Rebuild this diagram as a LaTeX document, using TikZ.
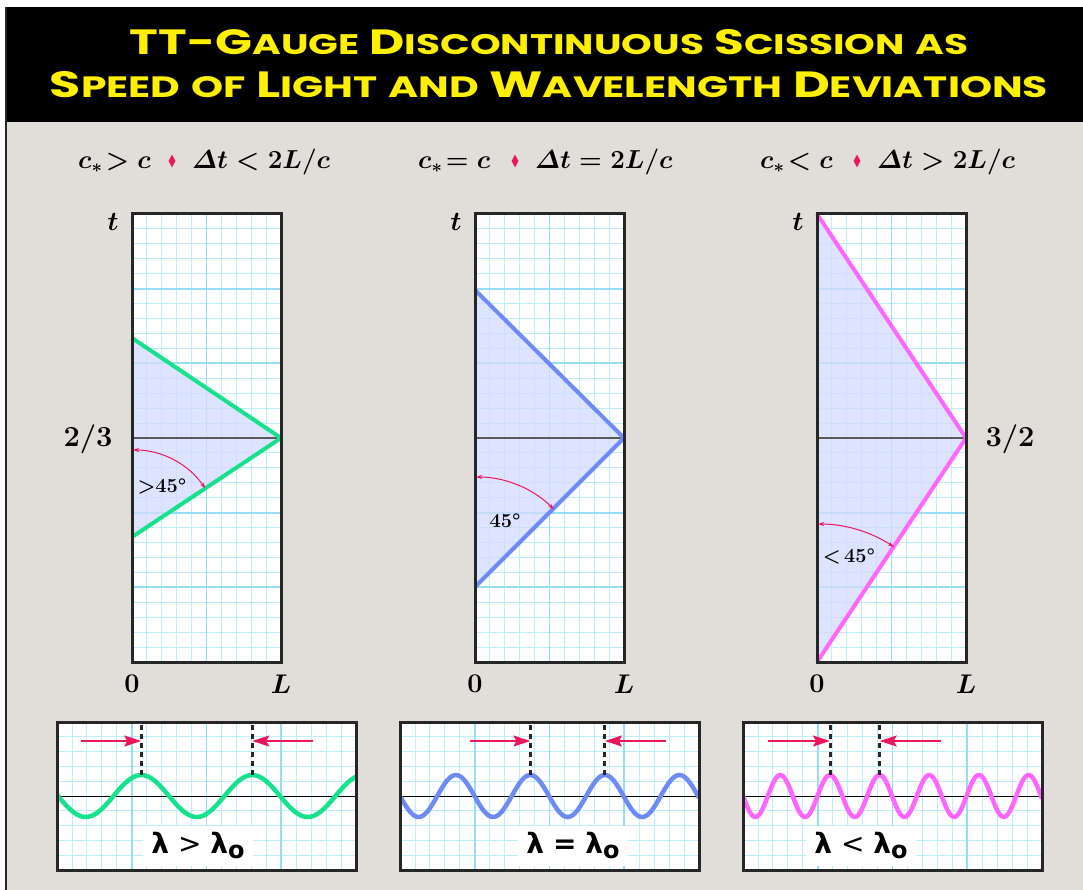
\RequirePackage{fix-cm}
\documentclass[tikz,border=0pt]{standalone}
\usepackage{amsmath}
\usepackage{graphicx}
\usepackage{fontspec}
\usetikzlibrary{arrows.meta,shapes.geometric,positioning}
\newfontfamily\titlefont{Poppins}
\newfontfamily\symfont{DejaVu Sans}
\newcommand\smc[1]{{\fontsize{29}{29}\selectfont #1}}
\definecolor{bgbeige}{RGB}{225,221,216}
\definecolor{titleyellow}{RGB}{255,240,0}
\definecolor{gridminor}{RGB}{190,238,251}
\definecolor{gridmajor}{RGB}{150,222,246}
\definecolor{wedgefill}{RGB}{212,218,255}
\definecolor{fastgreen}{RGB}{22,226,142}
\definecolor{evenblue}{RGB}{110,138,245}
\definecolor{slowpink}{RGB}{255,102,255}
\definecolor{markred}{RGB}{235,22,92}
\definecolor{framegray}{RGB}{38,38,38}

\begin{document}
\begin{tikzpicture}[x=1pt, y=-1pt, every node/.style={inner sep=0pt},
    panelbox/.style={draw=framegray, line width=3pt},
    minorline/.style={gridminor, line width=0.9pt},
    majorline/.style={gridmajor, line width=1.8pt},
    wedge/.style={fill=wedgefill, fill opacity=0.75},
    ray/.style={line width=4pt, line join=round},
    midline/.style={draw=black!65, line width=1.3pt},
    angarc/.style={markred, line width=1pt, {Stealth[length=6pt,width=4pt]}-{Stealth[length=6pt,width=4pt]}},
    wave/.style={line width=4.5pt},
    crest/.style={framegray, line width=3pt, dash pattern=on 5pt off 4pt},
    pointer/.style={markred, line width=1.5pt, -{Stealth[length=17pt,width=11pt,inset=3pt]}},
    heading/.style={font=\fontsize{26}{26}\selectfont\boldmath, anchor=base west},
    sep/.style={diamond, fill=markred, minimum width=7pt, minimum height=13pt},
    axislabel/.style={font=\fontsize{27}{27}\selectfont\bfseries\boldmath},
    ratio/.style={font=\fontsize{29}{29}\selectfont\bfseries},
    anglabel/.style={font=\fontsize{20}{20}\selectfont\bfseries},
    lamlabel/.style={fill=white, inner xsep=8pt, minimum height=40pt, font=\symfont\fontsize{28}{28}\selectfont}]
    \useasboundingbox (0,0) rectangle (1083,890);

    % Frame and title bar
    \fill[white] (0,0) rectangle (1083,890);
    \fill[bgbeige] (6,7) rectangle (1083,890);
    \fill[black] (6,7) rectangle (1083,122);
    \draw[framegray, line width=2.5pt] (6,7) -- (6,890);
    \node[anchor=base, text=titleyellow] (title1) at (549,55)
        {\resizebox{838pt}{25pt}{\titlefont\bfseries\fontsize{36}{36}\selectfont TT-G\smc{AUGE} D\smc{ISCONTINUOUS} S\smc{CISSION} \smc{AS}}};
    \node[anchor=base, text=titleyellow] (title2) at (549,98)
        {\resizebox{998pt}{26pt}{\titlefont\bfseries\fontsize{36}{36}\selectfont S\smc{PEED} \smc{OF} L\smc{IGHT} \smc{AND} W\smc{AVELENGTH} D\smc{EVIATIONS}}};

    % Headings
    \node[heading] (headA1) at (78,169) {$c_*\!>c$};
    \node[sep] (sepA) at (172,161) {};
    \node[heading] (headA2) at (192,169) {$\varDelta t<\mathbf{2}L/c$};
    \node[heading] (headB1) at (418,169) {$c_*\!=c$};
    \node[sep] (sepB) at (515,161) {};
    \node[heading] (headB2) at (535,169) {$\varDelta t=\mathbf{2}L/c$};
    \node[heading] (headC1) at (760,169) {$c_*\!<c$};
    \node[sep] (sepC) at (857,161) {};
    \node[heading] (headC2) at (877,169) {$\varDelta t>\mathbf{2}L/c$};

    % Spacetime panels
    \foreach \px in {132,475,817} {
        \fill[white] (\px,214) rectangle ++(149,448);
        \foreach \i in {1,...,9}
            \draw[minorline] ({\px+\i*14.9},214) -- ++(0,448);
        \foreach \j in {1,...,29}
            \draw[minorline] (\px,{214+\j*14.933}) -- ++(149,0);
        \draw[majorline] ({\px+74.5},214) -- ++(0,448);
        \foreach \j in {1,2,4,5}
            \draw[majorline] (\px,{214+\j*74.67}) -- ++(149,0);
    }
    \coordinate (apexA) at (281,438);
    \coordinate (apexB) at (624,438);
    \coordinate (apexC) at (966,438);
    \fill[wedge] (132,338) -- (apexA) -- (132,537) -- cycle;
    \fill[wedge] (475,290) -- (apexB) -- (475,587) -- cycle;
    \fill[wedge] (817,214) -- (apexC) -- (817,662) -- cycle;
    \draw[midline] (132,438) -- (apexA);
    \draw[midline] (475,438) -- (apexB);
    \draw[midline] (817,438) -- (apexC);
    \draw[ray, fastgreen] (132,338) -- (apexA) -- (132,537);
    \draw[ray, evenblue] (475,290) -- (apexB) -- (475,587);
    \draw[ray, slowpink] (817,214) -- (apexC) -- (817,662);
    \draw[panelbox] (132,214) rectangle (281,662);
    \draw[panelbox] (475,214) rectangle (624,662);
    \draw[panelbox] (817,214) rectangle (966,662);

    % Angles
    \draw[angarc] (133,450) arc[start angle=-90, end angle=-33.9, radius=87];
    \node[anglabel] (angA) at (162,486) {>45°};
    \draw[angarc] (476,477) arc[start angle=-90, end angle=-45, radius=110];
    \node[anglabel] (angB) at (505,521) {45°};
    \draw[angarc] (818,524) arc[start angle=-90, end angle=-56.4, radius=137];
    \node[anglabel] (angC) at (849,556) {<\,45°};

    % Axis labels
    \node[axislabel] (tA) at (113,222) {$t$};
    \node[axislabel] (tB) at (456,222) {$t$};
    \node[axislabel] (tC) at (798,222) {$t$};
    \node[axislabel] (zeroA) at (132,684) {0};
    \node[axislabel] (zeroB) at (475,684) {0};
    \node[axislabel] (zeroC) at (817,684) {0};
    \node[axislabel] (lenA) at (281,684) {$L$};
    \node[axislabel] (lenB) at (624,684) {$L$};
    \node[axislabel] (lenC) at (966,684) {$L$};
    \node[ratio] (fracA) at (88,439) {2/3};
    \node[ratio] (fracC) at (1010,439) {3/2};

    % Wave panels
    \foreach \px in {57,400,743} {
        \fill[white] (\px,722) rectangle ++(299,148);
        \foreach \i in {1,...,19}
            \draw[minorline] ({\px+\i*14.95},722) -- ++(0,148);
        \foreach \j in {1,...,9}
            \draw[minorline] (\px,{722+\j*14.8}) -- ++(299,0);
        \foreach \i in {5,10,15}
            \draw[majorline] ({\px+\i*14.95},722) -- ++(0,148);
        \draw[black, line width=1pt] (\px,796) -- ++(299,0);
    }
    \begin{scope}
        \clip (57,722) rectangle (356,870);
        \draw[wave, fastgreen] plot[domain=57:356, samples=140, smooth] (\x,{796+21*sin(360*((\x-58)/111))});
    \end{scope}
    \begin{scope}
        \clip (400,722) rectangle (699,870);
        \draw[wave, evenblue] plot[domain=400:699, samples=160, smooth] (\x,{796+21*sin(360*((\x-400)/74.5))});
    \end{scope}
    \begin{scope}
        \clip (743,722) rectangle (1042,870);
        \draw[wave, slowpink] plot[domain=743:1042, samples=200, smooth] (\x,{796+21*sin(360*((\x-743)/49.67))});
    \end{scope}

    % Crests and markers
    \coordinate (crestA1) at (141.25,775);
    \coordinate (crestA2) at (252.25,775);
    \coordinate (crestB1) at (530.4,775);
    \coordinate (crestB2) at (604.9,775);
    \coordinate (crestC1) at (830,775);
    \coordinate (crestC2) at (879.7,775);
    \foreach \c in {A1,A2,B1,B2,C1,C2}
        \draw[crest] (crest\c) -- (crest\c |- 0,722);
    \draw[pointer] (81,741) -- (crestA1 |- 0,741);
    \draw[pointer] (313,741) -- (crestA2 |- 0,741);
    \draw[pointer] (470,741) -- (crestB1 |- 0,741);
    \draw[pointer] (666,741) -- (crestB2 |- 0,741);
    \draw[pointer] (768,741) -- (crestC1 |- 0,741);
    \draw[pointer] (941,741) -- (crestC2 |- 0,741);

    \node[lamlabel] (lamA) at (198,846) {\textbf{λ} > \textbf{λ}\raisebox{-5pt}{\fontsize{24}{24}\selectfont\bfseries o}};
    \node[lamlabel] (lamB) at (573,846) {\textbf{λ} \textbf{=} \textbf{λ}\raisebox{-5pt}{\fontsize{24}{24}\selectfont\bfseries o}};
    \node[lamlabel] (lamC) at (861,846) {\textbf{λ} < \textbf{λ}\raisebox{-5pt}{\fontsize{24}{24}\selectfont\bfseries o}};

    \draw[panelbox] (57,722) rectangle (356,870);
    \draw[panelbox] (400,722) rectangle (699,870);
    \draw[panelbox] (743,722) rectangle (1042,870);
\end{tikzpicture}
\end{document}
